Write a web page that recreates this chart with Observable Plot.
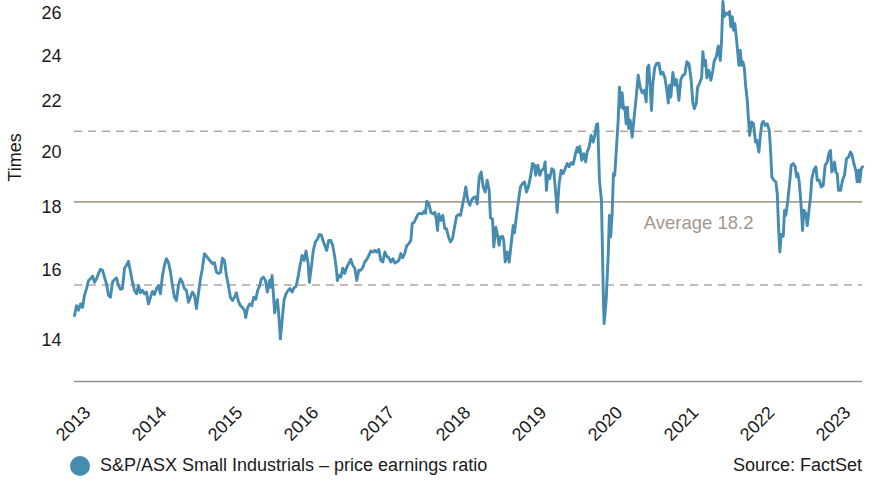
<!DOCTYPE html>
<html>
<head>
<meta charset="utf-8">
<script src="https://cdn.jsdelivr.net/npm/d3@7"></script>
<script src="https://cdn.jsdelivr.net/npm/@observablehq/plot@0.6"></script>
<style>
  html, body { margin: 0; padding: 0; background: #fff; }
  body { width: 872px; height: 482px; overflow: hidden; font-family: "Liberation Sans", Arial, sans-serif; }
  #legend { position: relative; height: 37px; font-size: 18px; color: #1a1a1a; }
  #legend .item { position: absolute; left: 70px; top: 10px; display: flex; align-items: center; }
  #legend .dot { width: 20px; height: 20px; border-radius: 50%; margin-right: 10px; }
  #legend .src { position: absolute; right: 10px; top: 10px; }
</style>
</head>
<body>
<div id="chart"></div>
<div id="legend"></div>
<script>
// Decimal years of each observation
const years = [
2012.895,2012.921,2012.947,2012.974,2013.000,2013.026,2013.053,2013.079,2013.105,2013.132,2013.158,2013.184,2013.211,2013.237,2013.263,2013.289,2013.316,2013.342,2013.368,2013.395,2013.421,2013.447,2013.474,2013.500,2013.526,2013.553,2013.579,2013.605,2013.632,2013.658,2013.684,2013.711,2013.737,2013.763,2013.789,2013.816,2013.842,2013.868,2013.895,2013.921,2013.947,2013.974,
2014.000,2014.026,2014.053,2014.079,2014.105,2014.132,2014.158,2014.184,2014.211,2014.237,2014.263,2014.289,2014.316,2014.342,2014.368,2014.395,2014.421,2014.447,2014.474,2014.500,2014.526,2014.553,2014.579,2014.605,2014.632,2014.658,2014.684,2014.711,2014.737,2014.763,2014.789,2014.816,2014.842,2014.868,2014.895,2014.921,2014.947,2014.974,
2015.000,2015.026,2015.053,2015.079,2015.105,2015.132,2015.149,2015.175,2015.201,2015.228,2015.254,2015.280,2015.307,2015.333,2015.355,2015.382,2015.408,2015.434,2015.461,2015.474,2015.496,2015.513,2015.530,2015.549,2015.566,2015.583,2015.605,2015.628,2015.654,2015.680,2015.707,2015.733,2015.759,2015.786,2015.812,2015.838,2015.864,2015.891,2015.917,2015.943,2015.970,2015.987,
2016.013,2016.039,2016.066,2016.092,2016.118,2016.145,2016.171,2016.197,2016.214,2016.241,2016.267,2016.293,2016.320,2016.338,2016.355,2016.372,2016.399,2016.425,2016.451,2016.478,2016.504,2016.530,2016.557,2016.583,2016.609,2016.636,2016.662,2016.688,2016.714,2016.741,2016.767,2016.793,2016.820,2016.846,2016.872,2016.899,2016.925,2016.951,2016.978,
2017.004,2017.030,2017.057,2017.083,2017.109,2017.136,2017.162,2017.188,2017.214,2017.241,2017.267,2017.293,2017.320,2017.338,2017.364,2017.391,2017.417,2017.443,2017.470,2017.496,2017.513,2017.530,2017.557,2017.583,2017.609,2017.636,2017.654,2017.671,2017.688,2017.714,2017.741,2017.767,2017.789,2017.816,2017.842,2017.868,2017.895,2017.921,2017.947,2017.974,
2018.000,2018.026,2018.043,2018.070,2018.096,2018.122,2018.149,2018.175,2018.193,2018.220,2018.246,2018.272,2018.299,2018.325,2018.351,2018.368,2018.395,2018.412,2018.438,2018.464,2018.482,2018.500,2018.526,2018.543,2018.562,2018.588,2018.614,2018.641,2018.667,2018.684,2018.711,2018.737,2018.763,2018.789,2018.816,2018.842,2018.868,2018.895,2018.921,2018.947,2018.964,2018.991,
2019.017,2019.043,2019.070,2019.088,2019.105,2019.122,2019.149,2019.175,2019.201,2019.228,2019.246,2019.272,2019.299,2019.325,2019.351,2019.378,2019.404,2019.430,2019.457,2019.483,2019.509,2019.526,2019.543,2019.570,2019.596,2019.622,2019.641,2019.667,2019.693,2019.720,2019.737,2019.763,2019.780,2019.803,2019.829,2019.838,2019.855,2019.864,2019.891,2019.917,2019.934,2019.951,2019.970,2019.987,
2020.004,2020.022,2020.049,2020.066,2020.083,2020.101,2020.118,2020.136,2020.154,2020.171,2020.188,2020.207,2020.233,2020.259,2020.286,2020.312,2020.338,2020.364,2020.391,2020.417,2020.434,2020.451,2020.470,2020.487,2020.504,2020.530,2020.557,2020.583,2020.609,2020.636,2020.662,2020.688,2020.707,2020.724,2020.741,2020.767,2020.793,2020.812,2020.829,2020.846,2020.872,2020.899,2020.925,2020.951,2020.978,
2021.004,2021.030,2021.049,2021.075,2021.092,2021.118,2021.145,2021.162,2021.180,2021.197,2021.214,2021.241,2021.267,2021.293,2021.312,2021.338,2021.364,2021.391,2021.408,2021.425,2021.443,2021.470,2021.496,2021.513,2021.530,2021.549,2021.566,2021.583,2021.601,2021.618,2021.636,2021.654,2021.671,2021.688,2021.707,2021.724,2021.746,2021.776,2021.803,2021.828,2021.855,2021.872,2021.899,2021.921,2021.938,2021.957,2021.983,
2022.009,2022.036,2022.053,2022.070,2022.096,2022.122,2022.141,2022.158,2022.175,2022.193,2022.220,2022.237,2022.254,2022.280,2022.307,2022.325,2022.351,2022.378,2022.395,2022.412,2022.430,2022.447,2022.474,2022.491,2022.517,2022.536,2022.553,2022.579,2022.596,2022.622,2022.649,2022.667,2022.693,2022.720,2022.746,2022.772,2022.799,2022.825,2022.842,2022.859,2022.878,2022.895,2022.912,2022.930,2022.947,2022.974,
2023.000,2023.026,2023.053,2023.079,2023.105,2023.122,2023.149,2023.175,2023.193,2023.211,2023.228,2023.246,2023.263
];
// Price earnings ratio (times)
const pe = [
14.67,14.95,14.82,15.00,14.90,15.25,15.44,15.68,15.73,15.81,15.63,15.73,15.89,16.02,15.99,15.78,15.58,15.25,15.19,15.63,15.71,15.76,15.53,15.42,15.44,16.05,16.14,16.26,15.94,15.63,15.39,15.29,15.53,15.32,15.39,15.29,15.34,15.00,15.19,15.36,15.27,15.44,
15.53,15.29,15.83,16.14,16.34,16.22,15.94,15.53,15.19,15.10,15.53,15.73,15.63,15.44,15.39,15.05,15.19,15.34,15.25,14.87,15.29,15.73,16.05,16.50,16.42,16.34,16.26,16.19,16.22,15.94,15.89,15.92,16.36,16.29,15.83,15.53,15.19,15.10,
15.19,15.32,15.07,14.95,14.90,14.82,14.62,14.90,15.00,14.95,15.19,15.13,15.39,15.53,15.73,15.78,15.68,15.34,15.68,15.48,15.83,15.29,14.75,15.00,15.12,14.72,14.04,14.54,15.12,15.29,15.39,15.44,15.34,15.47,15.51,15.78,16.14,16.44,16.29,16.58,16.19,15.63,
16.09,16.60,16.87,16.95,17.11,17.08,16.87,16.71,16.60,16.92,16.92,16.76,16.39,16.09,15.68,15.83,15.78,16.05,15.89,16.09,16.19,16.32,16.14,16.05,15.68,15.99,15.99,16.07,16.24,16.32,16.44,16.58,16.55,16.60,16.55,16.63,16.29,16.24,16.55,
16.41,16.37,16.24,16.34,16.21,16.24,16.29,16.50,16.37,16.52,16.76,16.81,16.92,17.46,17.51,17.66,17.79,17.81,17.79,17.88,17.81,18.22,18.13,17.84,17.79,17.84,17.62,17.24,17.79,17.57,17.74,17.30,17.30,17.03,16.87,16.97,17.35,17.71,17.77,17.74,
18.08,18.43,18.72,18.25,18.08,18.27,18.35,18.37,18.13,19.08,19.26,18.72,18.54,18.96,18.60,17.66,17.62,16.71,17.35,17.05,16.76,17.03,17.05,16.92,16.24,16.55,16.24,16.81,17.40,17.16,17.74,18.25,18.72,18.84,18.90,18.54,18.74,19.08,19.57,19.51,19.14,19.51,
19.14,19.32,19.38,19.63,18.60,19.14,19.02,19.38,19.32,18.48,17.84,18.84,19.32,19.20,19.38,19.57,19.45,19.60,19.54,19.88,20.17,20.00,20.21,19.69,19.94,19.63,20.00,20.19,20.64,20.38,20.57,21.07,21.10,18.96,18.25,17.11,15.10,14.45,15.10,16.39,17.74,17.03,17.79,19.20,
19.14,19.94,21.24,22.61,21.77,22.38,21.71,21.77,21.10,21.77,20.91,21.24,20.57,21.37,22.20,23.13,22.61,22.38,22.48,22.00,23.48,23.57,22.61,21.64,22.78,23.48,23.67,23.67,23.18,23.26,23.02,22.48,21.95,22.70,22.20,23.26,22.70,22.95,22.61,22.06,22.95,23.13,23.18,23.73,23.65,
23.02,21.95,21.71,21.95,22.61,22.78,23.02,24.19,23.57,23.79,23.02,23.35,22.91,23.35,23.79,23.95,24.45,23.79,24.72,26.60,25.85,26.03,25.94,26.10,25.35,25.85,25.19,25.50,24.90,24.25,23.57,24.25,23.57,23.73,23.48,22.70,22.06,20.64,21.17,21.10,20.38,20.45,20.00,20.72,21.10,21.20,21.03,
21.10,20.84,20.06,19.08,18.96,18.90,18.48,17.35,16.55,17.11,17.05,17.91,17.74,18.25,18.96,19.51,19.57,19.45,19.08,19.20,18.90,18.37,17.24,17.91,17.79,17.40,17.79,18.37,19.02,19.32,19.45,18.96,18.96,18.72,18.78,19.51,19.63,20.00,20.06,19.26,19.38,19.63,19.26,19.20,18.60,18.60,
18.96,19.14,19.75,19.81,20.00,19.92,19.57,19.32,18.90,19.32,18.90,19.38,19.45
];
const yTicks = [14, 16, 18, 20, 22, 24, 26];
const xTickYears = [2013, 2014, 2015, 2016, 2017, 2018, 2019, 2020, 2021, 2022, 2023];
const average = 18.2;
const bandLines = [20.8, 15.55];
const yDomain = [12.95, 26.6];
const seriesName = "S&P/ASX Small Industrials – price earnings ratio";
const sourceText = "Source: FactSet";
const averageLabel = "Average 18.2";
const yLabel = "Times";

function toDate(t) {
  const y = Math.floor(t);
  const s = Date.UTC(y, 0, 1), e = Date.UTC(y + 1, 0, 1);
  return new Date(s + (t - y) * (e - s));
}
const data = years.map((t, i) => ({date: toDate(t), value: pe[i]}));
const xTicks = xTickYears.map(y => new Date(Date.UTC(y, 0, 1)));

const lineColor = "#468cb0";
const refColor = "#b2a79d";

const chart = Plot.plot({
  width: 872,
  height: 445,
  marginLeft: 74,
  marginRight: 10,
  marginTop: 1,
  marginBottom: 64,
  style: {fontFamily: "'Liberation Sans', Arial, sans-serif", fontSize: "18px", color: "#1a1a1a", background: "#fff"},
  x: {type: "utc", domain: [data[0].date, data[data.length - 1].date]},
  y: {type: "log", domain: yDomain},
  marks: [
    Plot.axisY({ticks: yTicks, tickSize: 0, tickPadding: 13, tickFormat: d => String(d), label: null}),
    Plot.axisX({ticks: xTicks, tickSize: 0, tickPadding: 28, dx: 5, tickRotate: -45, tickFormat: d3.utcFormat("%Y"), label: null}),
    Plot.ruleY(bandLines, {stroke: refColor, strokeWidth: 1.5, strokeDasharray: "8,6"}),
    Plot.ruleY([average], {stroke: "#aa9f95", strokeWidth: 1.6}),
    Plot.ruleY([yDomain[0]], {stroke: "#8c949b", strokeWidth: 1.5}),
    Plot.lineY(data, {x: "date", y: "value", stroke: lineColor, strokeWidth: 2.9, strokeLinejoin: "round"}),
    Plot.text([averageLabel], {y: [average], frameAnchor: "right", dx: -109, dy: 21, textAnchor: "end", fill: "#a3978d", fontSize: 18.5}),
    Plot.text([yLabel], {frameAnchor: "left", dx: -59, dy: -34, rotate: -90, textAnchor: "middle", lineAnchor: "middle", fill: "#1a1a1a", fontSize: 18})
  ]
});
document.getElementById("chart").append(chart);

const legend = document.getElementById("legend");
legend.innerHTML = `<div class="item"><span class="dot" style="background:${lineColor}"></span><span>${seriesName.replace("&", "&amp;")}</span></div><div class="src">${sourceText}</div>`;
</script>
</body>
</html>
